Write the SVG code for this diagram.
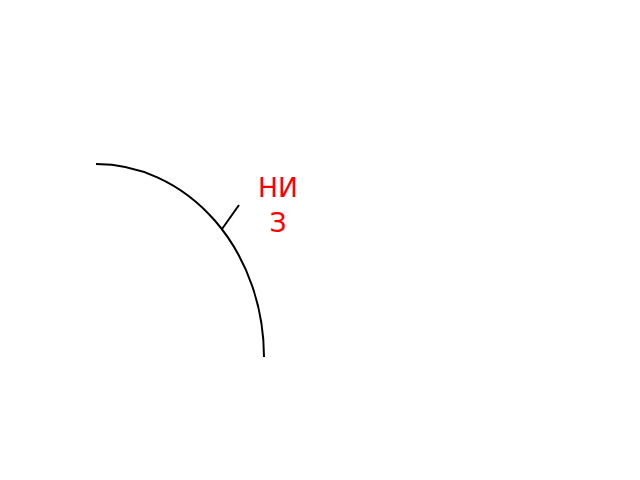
<svg xmlns="http://www.w3.org/2000/svg" width="640" height="480" viewBox="0 0 640 480">
<style>
.ln{fill:none;stroke:#000;stroke-width:2}
.lbl{font-family:"DejaVu Sans",sans-serif;font-size:26.67px;fill:#ff0000;text-anchor:middle}
</style>
<rect width="640" height="480" fill="#fff"/>
<g id="connectors">
<path class="ln" d="M96,164 A168,193 0 0 1 264,357"/>
<line class="ln" x1="222" y1="229" x2="239" y2="205"/>
</g>
<g id="label">
<text class="lbl" x="278" y="197">НИ</text>
<text class="lbl" x="278" y="232">З</text>
</g>
</svg>
